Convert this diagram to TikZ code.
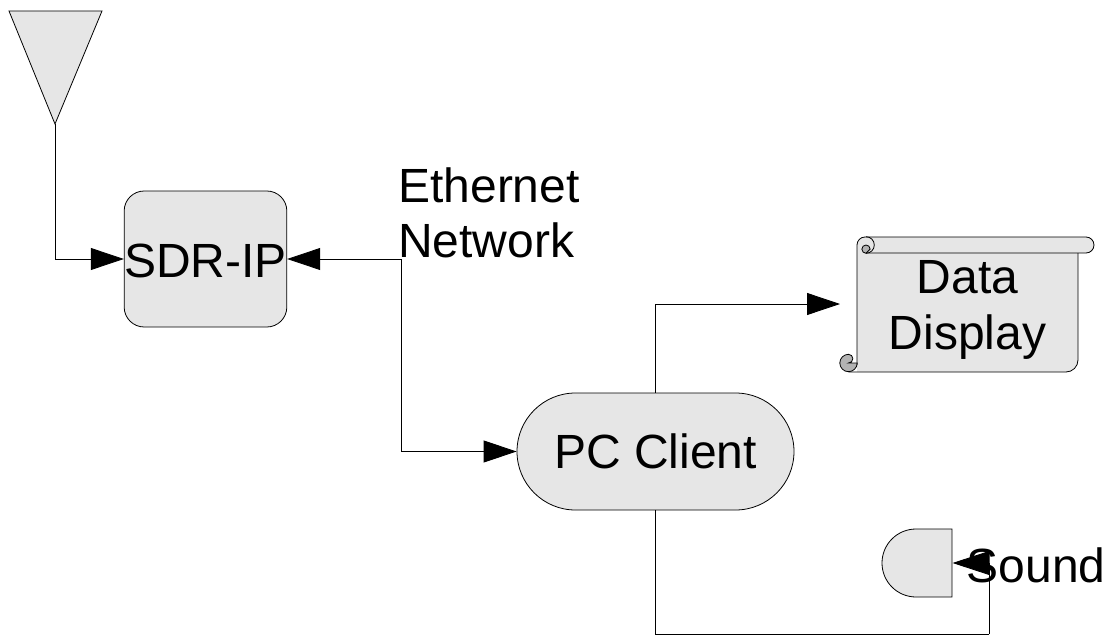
\documentclass[tikz,border=0pt]{standalone}
\usepackage{fontspec}
\setmainfont{Liberation Sans}
\usetikzlibrary{arrows.meta,shapes.misc}
\definecolor{shapefill}{HTML}{E6E6E6}
\definecolor{curlfill}{HTML}{B3B3B3}
\tikzset{
  shp/.style={draw=black,line width=0.6pt,fill=shapefill},
  line/.style={draw=black,line width=0.6pt},
  curl/.style={draw=black,line width=0.6pt,fill=curlfill},
  wire/.style={draw=black,line width=0.6pt,-{Triangle[length=24.75pt,width=16.5pt,fill=black]}},
  bigwire/.style={draw=black,line width=0.6pt,-{Triangle[length=27.75pt,width=18pt,fill=black]}},
  plainwire/.style={draw=black,line width=0.6pt},
  lbl/.style={inner sep=0pt,font=\fontsize{36pt}{41pt}\selectfont,text=black},
}
\begin{document}
\begin{tikzpicture}[x=0.75pt,y=-0.75pt]
\useasboundingbox (0,0) rectangle (1108,635);
% antenna
\draw[shp] (9,11) -- (102,11) -- (55,124) -- cycle;
\coordinate (ant) at (55,124);
% SDR-IP
\node[shp,rounded corners=15pt,minimum width=122pt,minimum height=102pt,inner sep=0pt] (sdr) at (205.5,259) {};
% PC client
\node[shp,rounded rectangle,minimum width=207.75pt,minimum height=87.75pt,inner sep=0pt] (pc) at (655.5,451.5) {};
% Data display scroll (arc angles are measured with y pointing down)
\fill[shapefill] (857,245) arc[start angle=180,end angle=270,radius=8] -- (1086,237)
  arc[start angle=270,end angle=450,radius=8] -- (1078,253) -- (1078,360)
  arc[start angle=0,end angle=90,radius=12] -- (857,372) -- cycle;
\draw[line] (857,365) -- (857,245) arc[start angle=180,end angle=270,radius=8] -- (1086,237)
  arc[start angle=270,end angle=450,radius=8] -- (866,253);
\draw[line] (1078,253) -- (1078,360) arc[start angle=0,end angle=90,radius=12] -- (848.5,372);
\draw[curl] (866,253.3) arc[start angle=90,end angle=270,radius=4.15]
  arc[start angle=270,end angle=360,radius=4.15] -- cycle;
\draw[line] (866,236.7) arc[start angle=270,end angle=450,radius=8.3];
\draw[curl] (857.2,363) arc[start angle=0,end angle=270,radius=8.7]
  arc[start angle=270,end angle=450,radius=4.35] -- cycle;
\coordinate (dispin) at (840,304);
% Sound delay shape
\draw[shp] (952,529) -- (952,597) -- (916,597) arc[start angle=90,end angle=270,radius=34] -- cycle;
\coordinate (snd) at (952.5,563);
% connectors
\coordinate (n1) at (401,259);
\coordinate (n2) at (401,451.5);
\coordinate (bot) at (655.5,634);
\coordinate (bot2) at (989,634);
\draw[wire] (ant) |- (sdr.west);
\draw[wire] (n1) -- (sdr.east);
\draw[plainwire] (n1) -- (n2);
\draw[wire] (n2) -- (pc.west);
\draw[wire] (pc.north) |- (dispin);
\draw[plainwire] (pc.south) -- (bot) -- (bot2);
\draw[bigwire] (bot2) |- (snd);
% labels
\node[lbl,anchor=base] (sdrt) at (205.5,277) {SDR-IP};
\node[lbl,anchor=base] (pct) at (655.5,468) {PC Client};
\node[lbl,anchor=base west] (eth) at (398,202) {Ethernet};
\node[lbl,anchor=base west] (net) at (398,257) {Network};
\node[lbl,anchor=base] (d1) at (967.5,293) {Data};
\node[lbl,anchor=base] (d2) at (967.5,349) {Display};
\node[lbl,anchor=base west] (sound) at (966.5,582) {Sound};
\end{tikzpicture}
\end{document}
